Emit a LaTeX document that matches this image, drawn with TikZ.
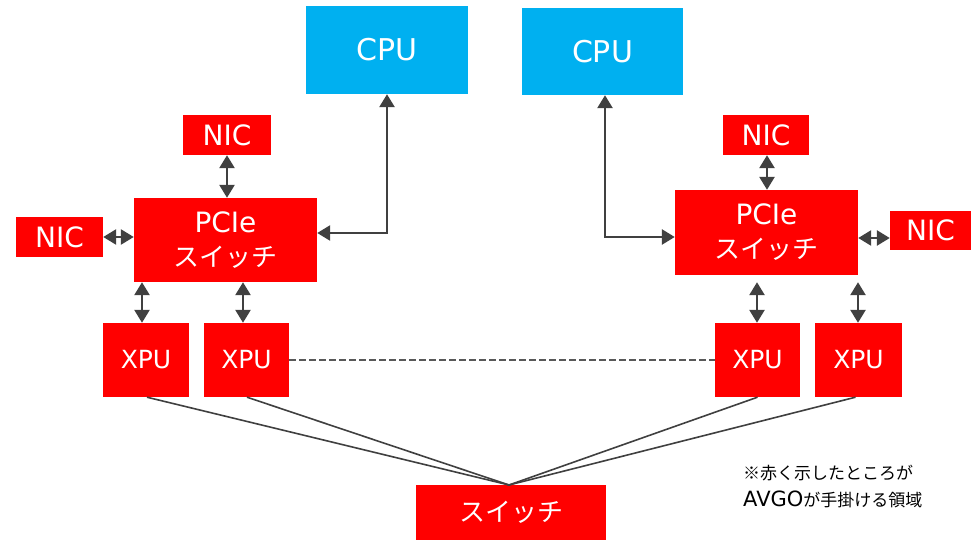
\documentclass[tikz,border=0pt]{standalone}
\usepackage{fontspec}
\setmainfont{DejaVu Sans}
\newfontfamily\jp{Noto Sans CJK JP}
\usetikzlibrary{arrows.meta}
\definecolor{boxred}{HTML}{FF0000}
\definecolor{boxcyan}{HTML}{00B0F0}
\definecolor{linegray}{HTML}{404040}
\definecolor{dashgray}{HTML}{595959}
\begin{document}
\begin{tikzpicture}[x=1pt,y=-1pt,
  redbox/.style={fill=boxred,text=white,inner sep=0pt,align=center},
  cpubox/.style={fill=boxcyan,text=white,inner sep=0pt,align=center,font=\fontsize{30}{36}\selectfont},
  nicbox/.style={redbox,font=\fontsize{28}{34}\selectfont},
  xpubox/.style={redbox,minimum width=86pt,minimum height=74pt,font=\fontsize{25}{30}\selectfont},
  dbl/.style={linegray,line width=2.6pt,{Triangle[length=13pt,width=15pt]}-{Triangle[length=13pt,width=15pt]}},
  link/.style={linegray,line width=1.6pt},
  dashlink/.style={dashgray,line width=1.5pt,dash pattern=on 7pt off 3pt}]
\useasboundingbox (0,0) rectangle (971,540);

% CPUs
\node[cpubox,minimum width=162pt,minimum height=88pt] (cpuL) at (387,50) {CPU};
\node[cpubox,minimum width=161pt,minimum height=87pt] (cpuR) at (602.5,51.5) {CPU};

% NICs
\node[nicbox,minimum width=88pt,minimum height=40pt] (nicTL) at (227,135) {NIC};
\node[nicbox,minimum width=87pt,minimum height=40pt] (nicL) at (59.5,237) {NIC};
\node[nicbox,minimum width=86pt,minimum height=40pt] (nicTR) at (766,135) {NIC};
\node[nicbox,minimum width=81pt,minimum height=39pt] (nicR) at (930.5,230.5) {NIC};

% PCIe switches
\node[redbox,minimum width=183pt,minimum height=84pt,font=\fontsize{28}{34}\selectfont] (pcieL) at (225.5,240) {PCIe\\{\jp\fontsize{26}{34}\selectfont スイッチ}};
\node[redbox,minimum width=183pt,minimum height=85pt,font=\fontsize{28}{34}\selectfont] (pcieR) at (766.5,232.5) {PCIe\\{\jp\fontsize{26}{34}\selectfont スイッチ}};

% XPUs
\node[xpubox] (xpu1) at (146,360) {XPU};
\node[xpubox,minimum width=85pt] (xpu2) at (246.5,360) {XPU};
\node[xpubox,minimum width=85pt] (xpu3) at (757.5,360) {XPU};
\node[xpubox,minimum width=87pt] (xpu4) at (858.5,360) {XPU};

% bottom switch
\node[redbox,minimum width=190pt,minimum height=55pt,font=\jp\fontsize{26}{30}\selectfont] (sw) at (511,512.5) {スイッチ};

% note
\node[anchor=west,align=left,inner sep=0pt,font=\jp\fontsize{17}{27}\selectfont] (note) at (743,487) {※赤く示したところが\\{\rmfamily\fontsize{21}{27}\selectfont AVGO}が手掛ける領域};

% arrows NIC <-> PCIe
\draw[dbl] (nicTL.south) -- (nicTL.south |- pcieL.north);
\draw[dbl] (nicL.east) -- (nicL.east -| pcieL.west);
\draw[dbl] (nicTR.south -| 767,0) -- (pcieR.north -| 767,0);
\draw[dbl] (pcieR.east |- 0,238) -- (nicR.west |- 0,238);

% CPU <-> PCIe
\coordinate (cL) at (387,233);
\draw[dbl] (pcieL.east |- cL) -- (cL) -- (cpuL.south);
\coordinate (cR) at (605,237);
\draw[dbl] (cpuR.south -| cR) -- (cR) -- (cR -| pcieR.west);

% PCIe <-> XPU
\draw[dbl] (pcieL.south -| 142,0) -- (xpu1.north -| 142,0);
\draw[dbl] (pcieL.south -| 243,0) -- (xpu2.north -| 243,0);
\draw[dbl,shorten <=7pt] (pcieR.south -| 757,0) -- (xpu3.north -| 757,0);
\draw[dbl,shorten <=7pt] (pcieR.south -| 858,0) -- (xpu4.north -| 858,0);

% dashed XPU link
\draw[dashlink] (xpu2.east) -- (xpu3.west);

% XPU to switch
\coordinate (conv) at (509,485);
\draw[link] ([xshift=1pt]xpu1.south) -- (conv);
\draw[link] ([xshift=0.5pt]xpu2.south) -- (conv);
\draw[link] (xpu3.south) -- (conv);
\draw[link] ([xshift=-3pt]xpu4.south) -- (conv);
\end{tikzpicture}
\end{document}
